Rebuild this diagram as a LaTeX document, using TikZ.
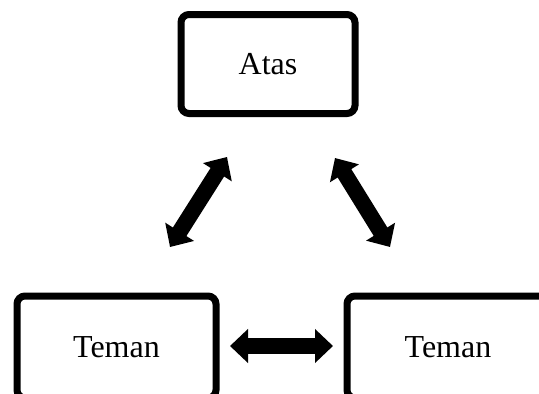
\documentclass[tikz,border=0pt]{standalone}
\usepackage{fontspec}
\setmainfont{Liberation Serif}
\usetikzlibrary{arrows.meta}

\tikzset{
  kotak/.style={draw, line width=7pt, rounded corners=8pt, fill=white,
    font=\fontsize{32}{37}\selectfont, inner sep=0pt},
  panah/.style={line width=16pt, {Triangle[width=33pt,length=18pt]}-{Triangle[width=33pt,length=18pt]}}
}

\begin{document}
\begin{tikzpicture}[x=1pt,y=-1pt]
      \useasboundingbox (0,0) rectangle (539,394);

      \node[kotak, minimum width=174pt, minimum height=99pt] (atas) at (268,64) {Atas};
      \node[kotak, minimum width=199pt, minimum height=102pt] (temankiri) at (116.5,347) {Teman};
      \node[kotak, minimum width=202pt, minimum height=102pt] (temankanan) at (448,347) {Teman};

      % ujung panah
      \coordinate (kiri1) at (170,247);
      \coordinate (kiri2) at (227,157);
      \coordinate (kanan1) at (335,158);
      \coordinate (kanan2) at (390,247);
      \coordinate (bawah1) at (230,346);
      \coordinate (bawah2) at (333,346);

      \draw[panah] (kiri1) -- (kiri2);
      \draw[panah] (kanan1) -- (kanan2);
      \draw[panah] (bawah1) -- (bawah2);
    \end{tikzpicture}
\end{document}
